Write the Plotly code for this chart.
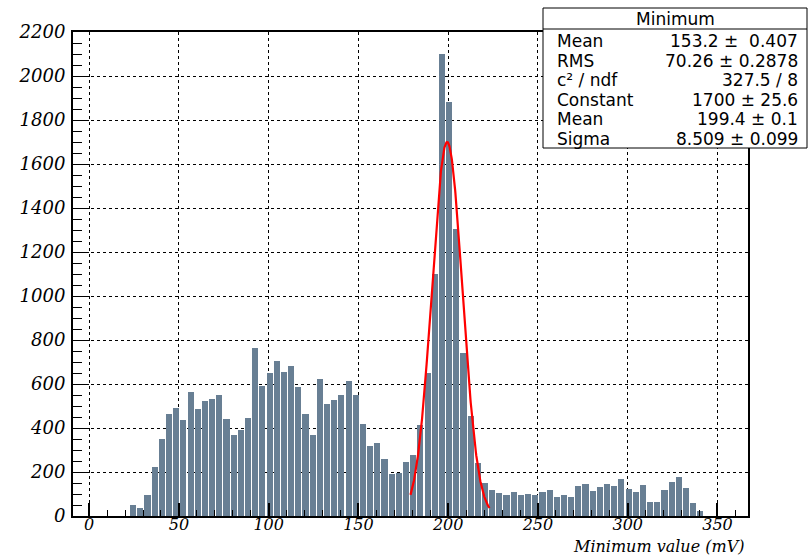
import numpy as np
import plotly.graph_objects as go

# ---- data -------------------------------------------------------------
bin_first_center = 24.5
bin_width = 4.0
counts = [50, 35, 94, 222, 349, 463, 490, 436, 563, 485,
          522, 531, 549, 440, 367, 390, 445, 763, 590, 649,
          704, 654, 681, 586, 463, 367, 622, 508, 527, 549,
          613, 549, 417, 317, 331, 258, 190, 195, 245, 276,
          413, 649, 1100, 2100, 1880, 1305, 741, 454, 240, 149,
          117, 103, 94, 108, 94, 99, 94, 108, 117, 85,
          94, 85, 135, 144, 112, 130, 144, 135, 167, 121,
          108, 140, 62, 62, 117, 153, 176, 126, 58, 22]
centers = bin_first_center + bin_width * np.arange(len(counts))

# Gaussian fit parameters (from stats box)
fit_constant = 1700.0
fit_mean = 199.4
fit_sigma = 8.509
fit_range = [179.0, 223.0]

x_ticks = [0, 50, 100, 150, 200, 250, 300, 350]
y_ticks = [0, 200, 400, 600, 800, 1000, 1200, 1400, 1600, 1800, 2000, 2200]

stats_title = "Minimum"
stats_labels = ["Mean", "RMS", "c\u00b2 / ndf", "Constant", "Mean", "Sigma"]
stats_values = ["153.2 \u00b1  0.407", "70.26 \u00b1 0.2878", "327.5 / 8",
                "1700 \u00b1 25.6", "199.4 \u00b1 0.1", "8.509 \u00b1 0.099"]

x_title = "Minimum value (mV)"

# ---- figure -----------------------------------------------------------
W, H = 809, 557
ml, mr, mt, mb = 73, 61, 32, 41
pw, ph = W - ml - mr, H - mt - mb

def px(x):
    return (x - ml) / pw

def py(y):
    return (H - mb - y) / ph

fig = go.Figure()
fig.add_trace(go.Bar(x=centers, y=counts, width=bin_width * 0.85,
                     marker=dict(color="#687f94", line=dict(width=0)),
                     showlegend=False, hoverinfo="skip"))

xf = np.linspace(fit_range[0], fit_range[1], 300)
yf = fit_constant * np.exp(-0.5 * ((xf - fit_mean) / fit_sigma) ** 2)
fig.add_trace(go.Scatter(x=xf, y=yf, mode="lines",
                         line=dict(color="#ff0000", width=2.2),
                         showlegend=False, hoverinfo="skip"))

xtickfont = dict(family="DejaVu Serif", size=16, color="black", style="italic")
ytickfont = dict(family="DejaVu Serif", size=18, color="black", style="italic")

fig.update_layout(
    width=W, height=H,
    margin=dict(l=ml, r=mr, t=mt, b=mb, pad=0),
    paper_bgcolor="white", plot_bgcolor="white",
    bargap=0,
    xaxis=dict(range=[-9, 367], tickmode="array", tickvals=x_ticks,
               ticktext=["<i>%d</i>" % v for v in x_ticks],
               showline=True, linecolor="black", linewidth=1.5, mirror=True,
               ticks="inside", ticklen=13, tickwidth=1.5, tickcolor="black",
               showgrid=True, gridcolor="black", griddash="dot", gridwidth=1,
               zeroline=False, tickfont=xtickfont, ticklabelstandoff=-7,
               minor=dict(dtick=10, tick0=0, ticks="inside", ticklen=6,
                          tickcolor="black", tickwidth=1, showgrid=False)),
    yaxis=dict(range=[0, 2200], tickmode="array", tickvals=y_ticks,
               ticktext=["<i>%d</i>" % v for v in y_ticks],
               showline=True, linecolor="black", linewidth=2, mirror=True,
               ticks="inside", ticklen=16, tickwidth=1, tickcolor="black",
               showgrid=True, gridcolor="black", griddash="dot", gridwidth=1,
               zeroline=False, tickfont=ytickfont, ticklabelstandoff=2,
               minor=dict(dtick=50, tick0=0, ticks="inside", ticklen=9,
                          tickcolor="black", tickwidth=1, showgrid=False)),
)

# axis title (right aligned, ROOT style)
fig.add_annotation(text="<i>" + x_title + "</i>", xref="paper", yref="paper",
                   x=px(745), y=py(557), borderpad=0,
                   xanchor="right", yanchor="bottom", showarrow=False,
                   font=dict(family="DejaVu Serif", size=16, color="black",
                             style="italic"))

# stats box
bx0, bx1, by0, by1 = 543, 807, 8, 148
fig.add_shape(type="rect", xref="paper", yref="paper",
              x0=px(bx0), x1=px(bx1), y0=py(by1), y1=py(by0),
              line=dict(color="black", width=1), fillcolor="white", layer="above")
fig.add_shape(type="line", xref="paper", yref="paper",
              x0=px(bx0), x1=px(bx1), y0=py(29), y1=py(29),
              line=dict(color="black", width=1), layer="above")
sfont = dict(family="DejaVu Sans", size=17, color="black")
fig.add_annotation(text=stats_title, xref="paper", yref="paper",
                   x=px((bx0 + bx1) / 2), y=py(19), xanchor="center", yanchor="middle",
                   showarrow=False, font=sfont)
row_y = [41, 60.5, 80, 99.5, 119, 138.5]
for lab, val, yy in zip(stats_labels, stats_values, row_y):
    fig.add_annotation(text=lab, xref="paper", yref="paper", x=px(555), y=py(yy),
                       xanchor="left", yanchor="middle", showarrow=False, font=sfont)
    fig.add_annotation(text=val, xref="paper", yref="paper", x=px(800), y=py(yy),
                       xanchor="right", yanchor="middle", showarrow=False, font=sfont)

fig.write_html("out.html", config={"displayModeBar": False},
               post_script="document.body.style.margin='0px';")
